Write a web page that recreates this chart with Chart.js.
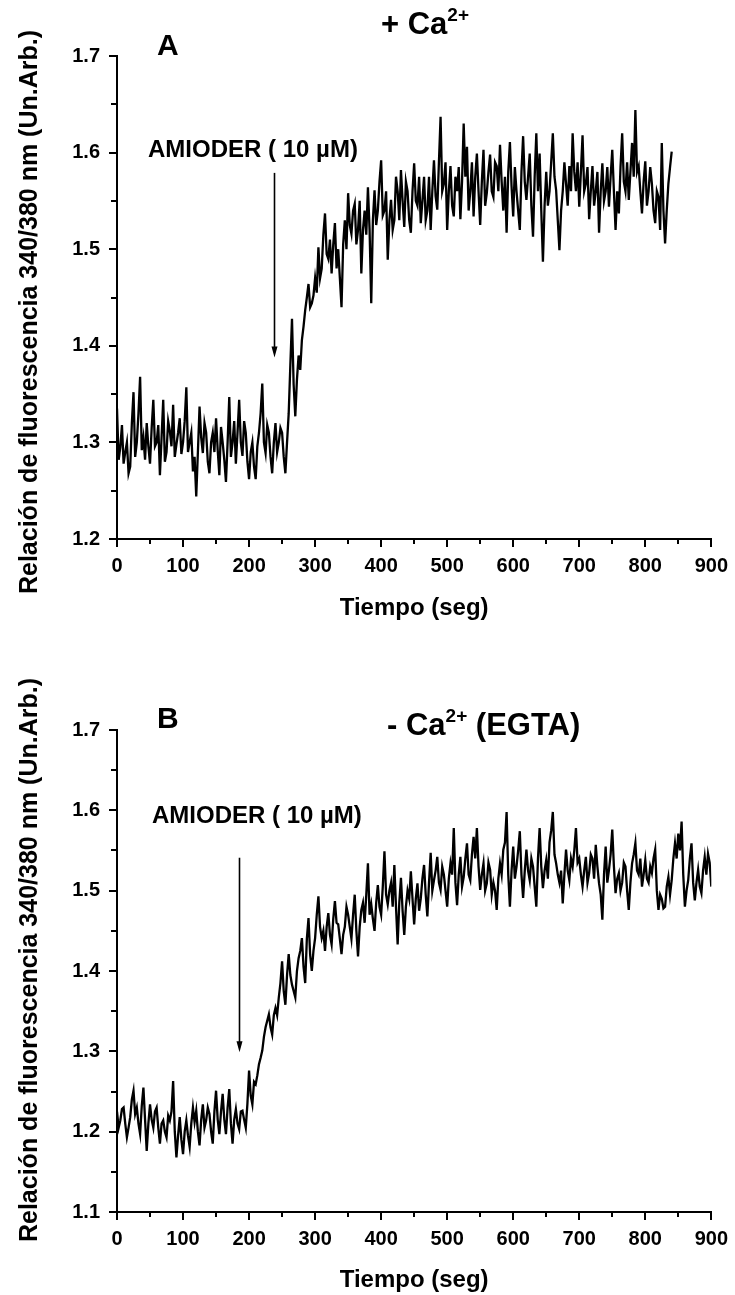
<!DOCTYPE html>
<html>
<head>
<meta charset="utf-8">
<script src="https://cdn.jsdelivr.net/npm/chart.js@4.4.0/dist/chart.umd.min.js"></script>
<style>
  html, body { margin: 0; padding: 0; background: #fff; }
  #wrap { position: relative; width: 735px; height: 1295px; }
  canvas { position: absolute; left: 0; }
</style>
</head>
<body>
<div id="wrap">
  <canvas id="chartA" width="735" height="640" style="top:0"></canvas>
  <canvas id="chartB" width="735" height="655" style="top:640px"></canvas>
</div>
<script>
// sample spacing of the recordings (s)
const timeStep = 2.5;

// panel A: + Ca2+, ratio 340/380 from 0 to 840 s (one row = 50 s)
const ratioCa = [
  1.335, 1.282, 1.295, 1.318, 1.278, 1.290, 1.300, 1.268, 1.275, 1.320, 1.352, 1.285, 1.300, 1.330, 1.368, 1.292, 1.305, 1.282, 1.320, 1.296,
  1.278, 1.315, 1.344, 1.296, 1.300, 1.318, 1.266, 1.305, 1.344, 1.280, 1.290, 1.322, 1.312, 1.296, 1.339, 1.285, 1.298, 1.310, 1.325, 1.288,
  1.300, 1.322, 1.357, 1.290, 1.300, 1.310, 1.270, 1.285, 1.244, 1.290, 1.337, 1.305, 1.289, 1.320, 1.310, 1.280, 1.268, 1.300, 1.310, 1.290,
  1.325, 1.292, 1.266, 1.316, 1.300, 1.282, 1.259, 1.300, 1.347, 1.285, 1.300, 1.322, 1.278, 1.310, 1.344, 1.300, 1.286, 1.322, 1.310, 1.280,
  1.262, 1.290, 1.300, 1.275, 1.262, 1.296, 1.310, 1.330, 1.361, 1.300, 1.289, 1.318, 1.310, 1.285, 1.268, 1.300, 1.320, 1.290, 1.300, 1.315,
  1.310, 1.285, 1.268, 1.300, 1.330, 1.380, 1.428, 1.360, 1.327, 1.365, 1.390, 1.375, 1.406, 1.420, 1.437, 1.450, 1.464, 1.440, 1.444, 1.452,
  1.470, 1.455, 1.502, 1.470, 1.480, 1.515, 1.537, 1.495, 1.490, 1.510, 1.475, 1.505, 1.527, 1.480, 1.500, 1.470, 1.440, 1.505, 1.530, 1.500,
  1.558, 1.525, 1.516, 1.540, 1.547, 1.505, 1.520, 1.550, 1.475, 1.520, 1.540, 1.515, 1.564, 1.520, 1.444, 1.530, 1.561, 1.525, 1.540, 1.570,
  1.592, 1.535, 1.540, 1.560, 1.489, 1.530, 1.551, 1.520, 1.530, 1.575, 1.560, 1.530, 1.582, 1.550, 1.523, 1.570, 1.560, 1.530, 1.517, 1.560,
  1.589, 1.550, 1.545, 1.575, 1.527, 1.550, 1.575, 1.530, 1.540, 1.575, 1.520, 1.560, 1.592, 1.555, 1.541, 1.590, 1.637, 1.560, 1.568, 1.590,
  1.520, 1.560, 1.586, 1.545, 1.534, 1.575, 1.560, 1.585, 1.531, 1.570, 1.630, 1.575, 1.606, 1.540, 1.560, 1.590, 1.534, 1.575, 1.599, 1.560,
  1.525, 1.570, 1.603, 1.545, 1.558, 1.580, 1.598, 1.560, 1.554, 1.590, 1.586, 1.560, 1.608, 1.570, 1.540, 1.575, 1.517, 1.580, 1.611, 1.565,
  1.534, 1.585, 1.560, 1.540, 1.520, 1.580, 1.617, 1.570, 1.551, 1.575, 1.599, 1.545, 1.513, 1.575, 1.620, 1.560, 1.599, 1.540, 1.487, 1.545,
  1.580, 1.545, 1.560, 1.590, 1.620, 1.575, 1.561, 1.530, 1.499, 1.540, 1.560, 1.590, 1.568, 1.545, 1.586, 1.560, 1.620, 1.580, 1.560, 1.590,
  1.544, 1.580, 1.618, 1.560, 1.568, 1.585, 1.531, 1.560, 1.586, 1.545, 1.560, 1.580, 1.517, 1.560, 1.589, 1.550, 1.560, 1.585, 1.544, 1.575,
  1.603, 1.560, 1.520, 1.560, 1.537, 1.585, 1.620, 1.570, 1.560, 1.590, 1.551, 1.580, 1.610, 1.575, 1.644, 1.580, 1.586, 1.560, 1.537, 1.570,
  1.591, 1.545, 1.560, 1.585, 1.568, 1.540, 1.527, 1.560, 1.554, 1.520, 1.610, 1.540, 1.506, 1.540, 1.568, 1.585, 1.601
];

// panel B: - Ca2+ (EGTA), from 0 to 900 s (one row = 50 s)
const ratioEgta = [
  1.225, 1.205, 1.214, 1.228, 1.230, 1.210, 1.193, 1.205, 1.218, 1.240, 1.251, 1.222, 1.230, 1.210, 1.197, 1.232, 1.255, 1.215, 1.176, 1.210,
  1.234, 1.215, 1.205, 1.225, 1.230, 1.205, 1.185, 1.210, 1.214, 1.200, 1.193, 1.220, 1.214, 1.225, 1.263, 1.200, 1.168, 1.195, 1.218, 1.190,
  1.172, 1.200, 1.214, 1.195, 1.181, 1.210, 1.230, 1.212, 1.226, 1.200, 1.183, 1.215, 1.234, 1.205, 1.214, 1.230, 1.222, 1.200, 1.185, 1.225,
  1.251, 1.215, 1.197, 1.225, 1.247, 1.215, 1.197, 1.230, 1.253, 1.210, 1.185, 1.215, 1.228, 1.210, 1.203, 1.225, 1.226, 1.215, 1.205, 1.235,
  1.276, 1.245, 1.234, 1.262, 1.259, 1.270, 1.284, 1.292, 1.301, 1.318, 1.330, 1.338, 1.346, 1.330, 1.321, 1.345, 1.354, 1.345, 1.367, 1.385,
  1.412, 1.375, 1.358, 1.395, 1.421, 1.395, 1.383, 1.375, 1.367, 1.400, 1.416, 1.425, 1.441, 1.405, 1.385, 1.440, 1.466, 1.420, 1.400, 1.425,
  1.441, 1.470, 1.493, 1.455, 1.441, 1.450, 1.425, 1.455, 1.472, 1.445, 1.433, 1.465, 1.487, 1.460, 1.458, 1.440, 1.421, 1.445, 1.455, 1.480,
  1.470, 1.455, 1.440, 1.470, 1.495, 1.450, 1.418, 1.455, 1.476, 1.485, 1.460, 1.495, 1.534, 1.470, 1.483, 1.465, 1.450, 1.485, 1.507, 1.480,
  1.470, 1.505, 1.549, 1.495, 1.483, 1.500, 1.510, 1.480, 1.532, 1.480, 1.433, 1.485, 1.516, 1.475, 1.445, 1.480, 1.500, 1.490, 1.524, 1.490,
  1.458, 1.490, 1.509, 1.475, 1.490, 1.515, 1.532, 1.495, 1.468, 1.510, 1.547, 1.500, 1.513, 1.525, 1.542, 1.510, 1.501, 1.530, 1.520, 1.500,
  1.480, 1.515, 1.534, 1.520, 1.578, 1.510, 1.482, 1.520, 1.542, 1.505, 1.517, 1.540, 1.559, 1.520, 1.513, 1.545, 1.567, 1.540, 1.578, 1.530,
  1.501, 1.520, 1.534, 1.500, 1.509, 1.535, 1.526, 1.495, 1.510, 1.500, 1.476, 1.515, 1.534, 1.520, 1.551, 1.560, 1.598, 1.520, 1.480, 1.525,
  1.555, 1.515, 1.530, 1.550, 1.574, 1.520, 1.491, 1.525, 1.551, 1.525, 1.513, 1.540, 1.530, 1.505, 1.480, 1.540, 1.578, 1.530, 1.503, 1.525,
  1.538, 1.515, 1.560, 1.575, 1.598, 1.545, 1.534, 1.520, 1.510, 1.525, 1.484, 1.520, 1.551, 1.525, 1.513, 1.540, 1.530, 1.550, 1.578, 1.535,
  1.540, 1.520, 1.505, 1.525, 1.542, 1.510, 1.522, 1.545, 1.540, 1.515, 1.557, 1.530, 1.509, 1.495, 1.464, 1.520, 1.555, 1.510, 1.526, 1.545,
  1.576, 1.530, 1.497, 1.515, 1.522, 1.500, 1.510, 1.535, 1.530, 1.500, 1.476, 1.510, 1.534, 1.545, 1.559, 1.525, 1.520, 1.540, 1.505, 1.520,
  1.538, 1.515, 1.510, 1.530, 1.522, 1.540, 1.551, 1.500, 1.476, 1.495, 1.490, 1.478, 1.480, 1.505, 1.517, 1.495, 1.513, 1.540, 1.559, 1.540,
  1.571, 1.550, 1.586, 1.520, 1.480, 1.500, 1.513, 1.540, 1.559, 1.510, 1.488, 1.510, 1.526, 1.505, 1.497, 1.525, 1.542, 1.520, 1.546, 1.535,
  1.505
];

// tick labels
const timeTicks = [0, 100, 200, 300, 400, 500, 600, 700, 800, 900];
const ratioTicksCa = [1.2, 1.3, 1.4, 1.5, 1.6, 1.7];
const ratioTicksEgta = [1.1, 1.2, 1.3, 1.4, 1.5, 1.6, 1.7];

const FONT = "'Liberation Sans', Arial, Helvetica, sans-serif";

const midpoints = (arr) => arr.slice(1).map((v, i) => (v + arr[i]) / 2);

// draws ticks, titles, the drug label and the arrow
const decor = {
  id: 'decor',
  afterDraw(chart, args, o) {
    const { ctx, chartArea: ca, scales: { x, y } } = chart;
    ctx.save();
    ctx.fillStyle = '#000';
    ctx.strokeStyle = '#000';

    // outward ticks, major and minor
    ctx.lineWidth = 2;
    ctx.beginPath();
    timeTicks.forEach(v => { const p = Math.round(x.getPixelForValue(v)); ctx.moveTo(p, ca.bottom); ctx.lineTo(p, ca.bottom + 8); });
    midpoints(timeTicks).forEach(v => { const p = Math.round(x.getPixelForValue(v)); ctx.moveTo(p, ca.bottom); ctx.lineTo(p, ca.bottom + 5); });
    o.yTicks.forEach(v => { const p = Math.round(y.getPixelForValue(v)); ctx.moveTo(ca.left, p); ctx.lineTo(ca.left - 8, p); });
    midpoints(o.yTicks).forEach(v => { const p = Math.round(y.getPixelForValue(v)); ctx.moveTo(ca.left, p); ctx.lineTo(ca.left - 6, p); });
    ctx.stroke();

    ctx.textBaseline = 'middle';
    ctx.textAlign = 'left';

    // panel letter
    ctx.font = `bold 30px ${FONT}`;
    ctx.fillText(o.panel, o.panelX, o.panelY);

    // title with superscript
    let cx = o.titleX;
    o.title.forEach(part => {
      const size = part.sup ? 19 : 31;
      ctx.font = `bold ${size}px ${FONT}`;
      ctx.fillText(part.t, cx, o.titleY + (part.sup ? -9 : 0));
      cx += ctx.measureText(part.t).width;
    });

    // drug label
    ctx.font = `bold 24px ${FONT}`;
    ctx.fillText('AMIODER ( 10 µM)', x.getPixelForValue(o.drugX), y.getPixelForValue(o.drugY));

    // arrow marking the addition
    const ax = Math.round(x.getPixelForValue(o.arrowX)) + 0.5;
    const y0 = y.getPixelForValue(o.arrowFrom);
    const y1 = y.getPixelForValue(o.arrowTo);
    ctx.lineWidth = 1.6;
    ctx.beginPath();
    ctx.moveTo(ax, y0);
    ctx.lineTo(ax, y1 - 6);
    ctx.stroke();
    ctx.beginPath();
    ctx.moveTo(ax, y1);
    ctx.lineTo(ax - 3, y1 - 11);
    ctx.lineTo(ax + 3, y1 - 11);
    ctx.closePath();
    ctx.fill();

    // y axis title
    ctx.translate(o.yTitleX, o.yTitleY);
    ctx.rotate(-Math.PI / 2);
    ctx.textAlign = 'center';
    ctx.font = `bold 25px ${FONT}`;
    ctx.fillText('Relación de fluorescencia 340/380 nm (Un.Arb.)', 0, 0);
    ctx.restore();
  }
};

function makeChart(id, values, yTicks, cfg) {
  return new Chart(document.getElementById(id), {
    type: 'line',
    data: {
      datasets: [{
        data: values.map((v, i) => ({ x: i * timeStep, y: v })),
        borderColor: '#000',
        borderWidth: 2.3,
        pointRadius: 0,
        tension: 0,
        fill: false
      }]
    },
    options: {
      responsive: false,
      animation: false,
      events: [],
      layout: { padding: { left: 0, top: cfg.top, right: 21, bottom: 0 } },
      plugins: {
        legend: { display: false },
        tooltip: { enabled: false },
        decor: Object.assign({ yTicks: yTicks }, cfg.decor)
      },
      scales: {
        x: {
          type: 'linear',
          min: 0,
          max: 900,
          afterFit: (s) => { s.height = cfg.xAxisHeight; },
          afterBuildTicks: (s) => { s.ticks = timeTicks.map(v => ({ value: v })); },
          grid: { display: false },
          border: { display: true, color: '#000', width: 2 },
          ticks: {
            padding: 7,
            maxRotation: 0,
            autoSkip: false,
            color: '#000',
            font: { family: FONT, size: 20, weight: 'bold' },
            callback: (v) => String(v)
          },
          title: {
            display: true,
            text: 'Tiempo (seg)',
            color: '#000',
            font: { family: FONT, size: 24, weight: 'bold' },
            padding: { top: 0, bottom: cfg.xTitlePad }
          }
        },
        y: {
          type: 'linear',
          min: yTicks[0],
          max: yTicks[yTicks.length - 1],
          afterFit: (s) => { s.width = 117; },
          afterBuildTicks: (s) => { s.ticks = yTicks.map(v => ({ value: v })); },
          grid: { display: false },
          border: { display: true, color: '#000', width: 2 },
          ticks: {
            padding: 9,
            color: '#000',
            font: { family: FONT, size: 20, weight: 'bold' },
            callback: (v) => v.toFixed(1)
          }
        }
      }
    },
    plugins: [decor]
  });
}

makeChart('chartA', ratioCa, ratioTicksCa, {
  top: 56,
  xAxisHeight: 101,
  xTitlePad: 17,
  decor: {
    panel: 'A', panelX: 157, panelY: 47,
    title: [{ t: '+ Ca' }, { t: '2+', sup: true }],
    titleX: 381, titleY: 25,
    drugX: 47, drugY: 1.602,
    arrowX: 237, arrowFrom: 1.579, arrowTo: 1.388,
    yTitleX: 30, yTitleY: 312
  }
});

makeChart('chartB', ratioEgta, ratioTicksEgta, {
  top: 90,
  xAxisHeight: 83,
  xTitlePad: 0,
  decor: {
    panel: 'B', panelX: 157, panelY: 80,
    title: [{ t: '- Ca' }, { t: '2+', sup: true }, { t: ' (EGTA)' }],
    titleX: 387, titleY: 86,
    drugX: 53, drugY: 1.593,
    arrowX: 185, arrowFrom: 1.541, arrowTo: 1.299,
    yTitleX: 30, yTitleY: 320
  }
});
</script>
</body>
</html>
